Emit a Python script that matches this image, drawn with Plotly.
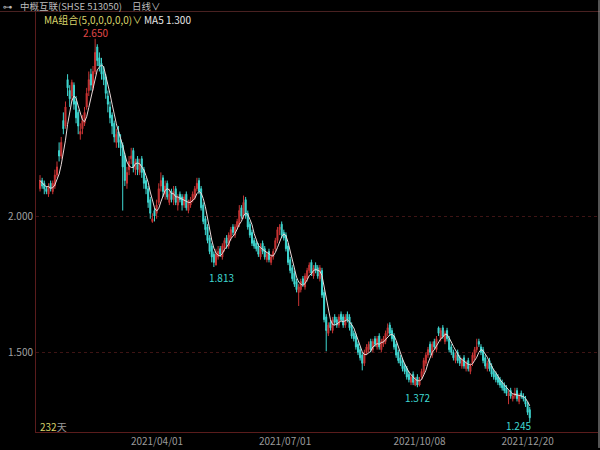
import plotly.graph_objects as go
import pandas as pd

# ---- data ----
close = [
    2.13, 2.11, 2.10, 2.09, 2.11, 2.10, 2.12, 2.15, 2.18, 2.22,
    2.27, 2.32, 2.40, 2.47, 2.43, 2.49, 2.41, 2.36, 2.33, 2.31,
    2.35, 2.38, 2.45, 2.50, 2.48, 2.53, 2.60, 2.57, 2.55, 2.52,
    2.50, 2.45, 2.41, 2.36, 2.33, 2.29, 2.30, 2.27, 2.25, 2.18,
    2.13, 2.16, 2.20, 2.22, 2.18, 2.20, 2.17, 2.19, 2.16, 2.12,
    2.10, 2.05, 2.01, 1.99, 2.00, 2.04, 2.10, 2.13, 2.09, 2.11,
    2.07, 2.08, 2.06, 2.09, 2.05, 2.07, 2.06, 2.04, 2.07, 2.03,
    2.05, 2.06, 2.08, 2.10, 2.12, 2.09, 2.03, 1.98, 1.95, 1.91,
    1.87, 1.85, 1.83, 1.86, 1.87, 1.86, 1.89, 1.91, 1.90, 1.93,
    1.95, 1.94, 1.96, 1.98, 2.02, 2.00, 2.05, 2.00, 1.96, 1.93,
    1.90, 1.89, 1.88, 1.86, 1.89, 1.87, 1.85, 1.86, 1.84, 1.85,
    1.87, 1.91, 1.95, 1.96, 1.93, 1.92, 1.88, 1.83, 1.80, 1.77,
    1.75, 1.73, 1.74, 1.76, 1.75, 1.78, 1.80, 1.82, 1.79, 1.81,
    1.80, 1.78, 1.81, 1.71, 1.62, 1.58, 1.60, 1.59, 1.62, 1.61,
    1.60, 1.63, 1.62, 1.60, 1.63, 1.62, 1.59, 1.56, 1.55, 1.52,
    1.50, 1.48, 1.46, 1.50, 1.52, 1.53, 1.51, 1.54, 1.53, 1.55,
    1.52, 1.54, 1.55, 1.57, 1.59, 1.57, 1.55, 1.52, 1.49, 1.47,
    1.46, 1.44, 1.43, 1.41, 1.40, 1.41, 1.39, 1.40, 1.38, 1.40,
    1.43, 1.47, 1.49, 1.51, 1.50, 1.53, 1.52, 1.55, 1.57, 1.58,
    1.56, 1.57, 1.55, 1.51, 1.50, 1.48, 1.49, 1.47, 1.46, 1.47,
    1.45, 1.46, 1.44, 1.45, 1.49, 1.51, 1.52, 1.53, 1.50, 1.47,
    1.45, 1.46, 1.44, 1.42, 1.41, 1.40, 1.39, 1.38, 1.37, 1.36,
    1.35, 1.35, 1.34, 1.34, 1.35, 1.33, 1.34, 1.34, 1.33, 1.31,
    1.28, 1.26,
]
open_ = [
    2.10, 2.13, 2.12, 2.10, 2.08, 2.12, 2.09, 2.11, 2.15, 2.24,
    2.22, 2.35, 2.33, 2.50, 2.46, 2.44, 2.48, 2.42, 2.38, 2.30,
    2.32, 2.34, 2.40, 2.46, 2.52, 2.47, 2.53, 2.62, 2.58, 2.56,
    2.53, 2.51, 2.44, 2.40, 2.37, 2.34, 2.27, 2.31, 2.28, 2.26,
    2.22, 2.12, 2.17, 2.21, 2.24, 2.17, 2.21, 2.16, 2.21, 2.17,
    2.13, 2.10, 2.06, 1.98, 2.02, 2.01, 2.05, 2.11, 2.14, 2.08,
    2.12, 2.05, 2.09, 2.06, 2.10, 2.04, 2.08, 2.07, 2.04, 2.08,
    2.02, 2.04, 2.06, 2.07, 2.10, 2.13, 2.10, 2.04, 1.99, 1.96,
    1.92, 1.89, 1.86, 1.82, 1.85, 1.88, 1.85, 1.88, 1.92, 1.89,
    1.92, 1.96, 1.93, 1.96, 1.97, 2.03, 2.00, 2.06, 2.01, 1.97,
    1.94, 1.91, 1.90, 1.89, 1.85, 1.90, 1.88, 1.84, 1.87, 1.83,
    1.85, 1.88, 1.91, 1.95, 1.97, 1.94, 1.93, 1.89, 1.84, 1.81,
    1.79, 1.76, 1.72, 1.73, 1.77, 1.74, 1.77, 1.80, 1.83, 1.78,
    1.82, 1.81, 1.77, 1.80, 1.72, 1.63, 1.57, 1.61, 1.58, 1.63,
    1.62, 1.60, 1.64, 1.63, 1.60, 1.64, 1.63, 1.60, 1.57, 1.56,
    1.53, 1.51, 1.49, 1.46, 1.50, 1.51, 1.54, 1.51, 1.55, 1.52,
    1.56, 1.51, 1.53, 1.54, 1.57, 1.60, 1.58, 1.56, 1.53, 1.50,
    1.48, 1.47, 1.45, 1.44, 1.42, 1.39, 1.42, 1.38, 1.41, 1.38,
    1.41, 1.43, 1.46, 1.49, 1.53, 1.49, 1.54, 1.51, 1.59, 1.55,
    1.59, 1.54, 1.58, 1.55, 1.52, 1.50, 1.47, 1.50, 1.48, 1.45,
    1.48, 1.44, 1.47, 1.43, 1.46, 1.48, 1.51, 1.54, 1.52, 1.51,
    1.48, 1.44, 1.47, 1.45, 1.43, 1.42, 1.41, 1.40, 1.39, 1.38,
    1.37, 1.34, 1.36, 1.33, 1.34, 1.36, 1.32, 1.35, 1.34, 1.33,
    1.31, 1.29,
]
high = [
    2.15, 2.14, 2.13, 2.11, 2.12, 2.13, 2.13, 2.17, 2.20, 2.27,
    2.29, 2.38, 2.42, 2.52, 2.48, 2.50, 2.49, 2.44, 2.39, 2.34,
    2.37, 2.40, 2.47, 2.53, 2.54, 2.55, 2.65, 2.63, 2.60, 2.58,
    2.55, 2.52, 2.46, 2.42, 2.38, 2.35, 2.32, 2.33, 2.30, 2.27,
    2.23, 2.18, 2.22, 2.25, 2.25, 2.21, 2.22, 2.21, 2.22, 2.18,
    2.14, 2.11, 2.07, 2.01, 2.03, 2.06, 2.12, 2.16, 2.15, 2.13,
    2.13, 2.10, 2.10, 2.11, 2.11, 2.08, 2.09, 2.08, 2.08, 2.09,
    2.06, 2.07, 2.09, 2.11, 2.14, 2.14, 2.11, 2.05, 2.00, 1.97,
    1.93, 1.90, 1.87, 1.88, 1.89, 1.89, 1.90, 1.92, 1.93, 1.94,
    1.96, 1.97, 1.97, 1.99, 2.04, 2.04, 2.075, 2.07, 2.02, 1.98,
    1.95, 1.92, 1.91, 1.90, 1.90, 1.91, 1.89, 1.87, 1.88, 1.86,
    1.88, 1.92, 1.96, 1.97, 1.98, 1.95, 1.94, 1.90, 1.85, 1.82,
    1.80, 1.77, 1.75, 1.77, 1.78, 1.79, 1.81, 1.83, 1.84, 1.82,
    1.83, 1.82, 1.82, 1.81, 1.73, 1.64, 1.61, 1.62, 1.63, 1.64,
    1.63, 1.64, 1.65, 1.64, 1.64, 1.65, 1.64, 1.61, 1.58, 1.57,
    1.54, 1.52, 1.50, 1.51, 1.53, 1.54, 1.55, 1.55, 1.56, 1.56,
    1.57, 1.55, 1.56, 1.58, 1.606, 1.61, 1.59, 1.57, 1.54, 1.51,
    1.49, 1.48, 1.46, 1.45, 1.43, 1.42, 1.43, 1.41, 1.42, 1.41,
    1.44, 1.48, 1.50, 1.52, 1.54, 1.54, 1.55, 1.56, 1.595, 1.59,
    1.60, 1.58, 1.59, 1.56, 1.53, 1.51, 1.50, 1.51, 1.49, 1.48,
    1.49, 1.47, 1.48, 1.46, 1.50, 1.52, 1.55, 1.55, 1.53, 1.52,
    1.49, 1.47, 1.48, 1.46, 1.44, 1.43, 1.42, 1.41, 1.40, 1.39,
    1.38, 1.36, 1.37, 1.35, 1.37, 1.37, 1.35, 1.36, 1.35, 1.34,
    1.32, 1.30,
]
low = [
    2.09, 2.10, 2.08, 2.08, 2.07, 2.09, 2.08, 2.10, 2.14, 2.20,
    2.21, 2.30, 2.32, 2.44, 2.40, 2.42, 2.39, 2.34, 2.30, 2.28,
    2.30, 2.33, 2.39, 2.44, 2.46, 2.46, 2.52, 2.55, 2.53, 2.50,
    2.48, 2.43, 2.38, 2.34, 2.30, 2.27, 2.25, 2.25, 2.22, 2.02,
    2.11, 2.10, 2.15, 2.19, 2.16, 2.15, 2.15, 2.15, 2.14, 2.10,
    2.08, 2.03, 1.99, 1.975, 1.98, 1.99, 2.04, 2.09, 2.07, 2.06,
    2.06, 2.04, 2.05, 2.04, 2.04, 2.02, 2.05, 2.02, 2.03, 2.02,
    2.01, 2.03, 2.05, 2.06, 2.09, 2.08, 2.02, 1.97, 1.93, 1.90,
    1.86, 1.83, 1.813, 1.82, 1.84, 1.85, 1.84, 1.87, 1.88, 1.88,
    1.91, 1.93, 1.92, 1.95, 1.96, 1.99, 1.99, 1.99, 1.95, 1.92,
    1.89, 1.88, 1.87, 1.85, 1.84, 1.86, 1.84, 1.83, 1.83, 1.82,
    1.84, 1.87, 1.90, 1.93, 1.92, 1.91, 1.87, 1.82, 1.79, 1.76,
    1.74, 1.72, 1.67, 1.72, 1.74, 1.73, 1.76, 1.79, 1.78, 1.77,
    1.79, 1.77, 1.76, 1.70, 1.61, 1.504, 1.56, 1.58, 1.57, 1.60,
    1.59, 1.59, 1.61, 1.59, 1.59, 1.61, 1.58, 1.55, 1.54, 1.51,
    1.49, 1.47, 1.434, 1.45, 1.49, 1.50, 1.50, 1.50, 1.52, 1.51,
    1.51, 1.50, 1.52, 1.53, 1.56, 1.56, 1.54, 1.51, 1.48, 1.46,
    1.45, 1.43, 1.42, 1.40, 1.39, 1.38, 1.38, 1.376, 1.372, 1.375,
    1.40, 1.42, 1.45, 1.48, 1.49, 1.48, 1.51, 1.50, 1.56, 1.54,
    1.55, 1.53, 1.54, 1.50, 1.49, 1.47, 1.46, 1.46, 1.45, 1.44,
    1.44, 1.43, 1.43, 1.42, 1.45, 1.47, 1.50, 1.52, 1.49, 1.46,
    1.44, 1.43, 1.43, 1.41, 1.40, 1.39, 1.38, 1.37, 1.36, 1.35,
    1.34, 1.31, 1.33, 1.32, 1.33, 1.32, 1.31, 1.33, 1.32, 1.30,
    1.27, 1.245,
]
tick_pos = [55.2, 115.6, 179.0, 230.0]
tick_labels = ["2021/04/01", "2021/07/01", "2021/10/08", "2021/12/20"]
y_ticks = [1.5, 2.0]
y_tick_labels = ["1.500", "2.000"]
title_text = "中概互联(SHSE 513050)"
period_text = "日线∨"
ma_group_text = "MA组合(5,0,0,0,0,0)∨"
ma5_text = "MA5 1.300"
days_text = "232"

n = len(close)
idx = list(range(n))
ma5 = pd.Series(close).rolling(5, min_periods=1).mean().tolist()

RED = "#c83434"
CYAN = "#3fd8d2"
GRID = "#3e1414"
AXIS = "#5a1c1c"
FONT = "Noto Sans CJK SC, DejaVu Sans, sans-serif"

fig = go.Figure()
fig.add_trace(go.Candlestick(
    x=idx, open=open_, high=high, low=low, close=close,
    increasing=dict(line=dict(color=RED, width=1), fillcolor=RED),
    decreasing=dict(line=dict(color=CYAN, width=1), fillcolor=CYAN),
    whiskerwidth=0, showlegend=False, hoverinfo="skip"))
fig.add_trace(go.Scatter(x=idx, y=ma5, mode="lines",
                         line=dict(color="#eadada", width=1),
                         showlegend=False, hoverinfo="skip"))

# plot area: x 36..598 px, y 11..434 px
L, R, T, B = 36, 598, 11, 434
def px(x):
    return (x - L) / (R - L)
def py(y):
    return (B - y) / (B - T)

hi_i = max(idx, key=lambda i: high[i])
lo_i = min(idx, key=lambda i: low[i])
lows_marked = [82, 178]

LBL = 10
ann = []
ann.append(dict(x=hi_i, y=high[hi_i], xref="x", yref="y", text=f"{high[hi_i]:.3f}",
                showarrow=False, yanchor="bottom", yshift=-3,
                font=dict(color="#e04848", size=LBL, family=FONT)))
for i, xs in zip(lows_marked, [8, 0]):
    ann.append(dict(x=i, y=low[i], xref="x", yref="y", text=f"{low[i]:.3f}",
                    showarrow=False, yanchor="top", yshift=-1, xshift=xs,
                    font=dict(color=CYAN, size=LBL, family=FONT)))
ann.append(dict(x=lo_i, y=low[lo_i], xref="x", yref="y", text=f"{low[lo_i]:.3f}",
                showarrow=False, yanchor="middle", yshift=-4, xshift=-11,
                font=dict(color=CYAN, size=LBL, family=FONT)))

HDR = 9.5
ann += [
    dict(x=px(2), y=py(5.5), xref="paper", yref="paper", text="⊶",
         showarrow=False, xanchor="left", yanchor="middle", borderpad=0,
         font=dict(color="#bbbbbb", size=HDR, family=FONT)),
    dict(x=px(19), y=py(5.5), xref="paper", yref="paper", text=title_text,
         showarrow=False, xanchor="left", yanchor="middle", borderpad=0,
         font=dict(color="#bdbdbd", size=HDR, family=FONT)),
    dict(x=px(131), y=py(5.5), xref="paper", yref="paper", text=period_text,
         showarrow=False, xanchor="left", yanchor="middle", borderpad=0,
         font=dict(color="#bdbdbd", size=HDR, family=FONT)),
    dict(x=px(43), y=py(20), xref="paper", yref="paper", text=ma_group_text,
         showarrow=False, xanchor="left", yanchor="middle", borderpad=0,
         font=dict(color="#d9d46a", size=10, family=FONT)),
    dict(x=px(143), y=py(20), xref="paper", yref="paper", text=ma5_text,
         showarrow=False, xanchor="left", yanchor="middle", borderpad=0,
         font=dict(color="#e6e6e6", size=10, family=FONT)),
    dict(x=px(38), y=py(428), xref="paper", yref="paper",
         text=f"<span style='color:#d9d46a'>{days_text}</span><span style='color:#9a9a9a'>天</span>",
         showarrow=False, xanchor="left", yanchor="middle",
         font=dict(size=10, family=FONT)),
]

fig.update_layout(
    width=600, height=450,
    margin=dict(l=L, r=600 - R, t=T, b=450 - B),
    paper_bgcolor="#000000", plot_bgcolor="#000000",
    annotations=ann,
    font=dict(family=FONT, color="#9a9a9a", size=10),
    xaxis=dict(range=[-1.9, 263.2], tickvals=tick_pos, ticktext=tick_labels,
               showgrid=False, zeroline=False, showline=True, linecolor=AXIS,
               linewidth=1, ticks="", rangeslider=dict(visible=False),
               tickfont=dict(color="#9a9a9a", size=10, family=FONT)),
    yaxis=dict(range=[1.208, 2.7518], tickvals=y_ticks, ticktext=y_tick_labels,
               showgrid=True, gridcolor=GRID, griddash="dot", gridwidth=1,
               zeroline=False, showline=True, linecolor=AXIS, linewidth=1,
               ticks="", tickfont=dict(color="#a0a0a0", size=10, family=FONT)),
    shapes=[
        dict(type="line", xref="paper", yref="paper", x0=px(0), x1=px(600),
             y0=py(11.5), y1=py(11.5), line=dict(color="#4a2222", width=1)),
        dict(type="line", xref="paper", yref="paper", x0=px(599), x1=px(599),
             y0=py(0), y1=py(450), line=dict(color="#aaaaaa", width=1)),
    ],
)

fig.write_html(
    "out.html",
    config={"displayModeBar": False, "staticPlot": True},
    post_script="document.body.style.margin='0';document.body.style.overflow='hidden';document.body.style.background='#000';",
)
